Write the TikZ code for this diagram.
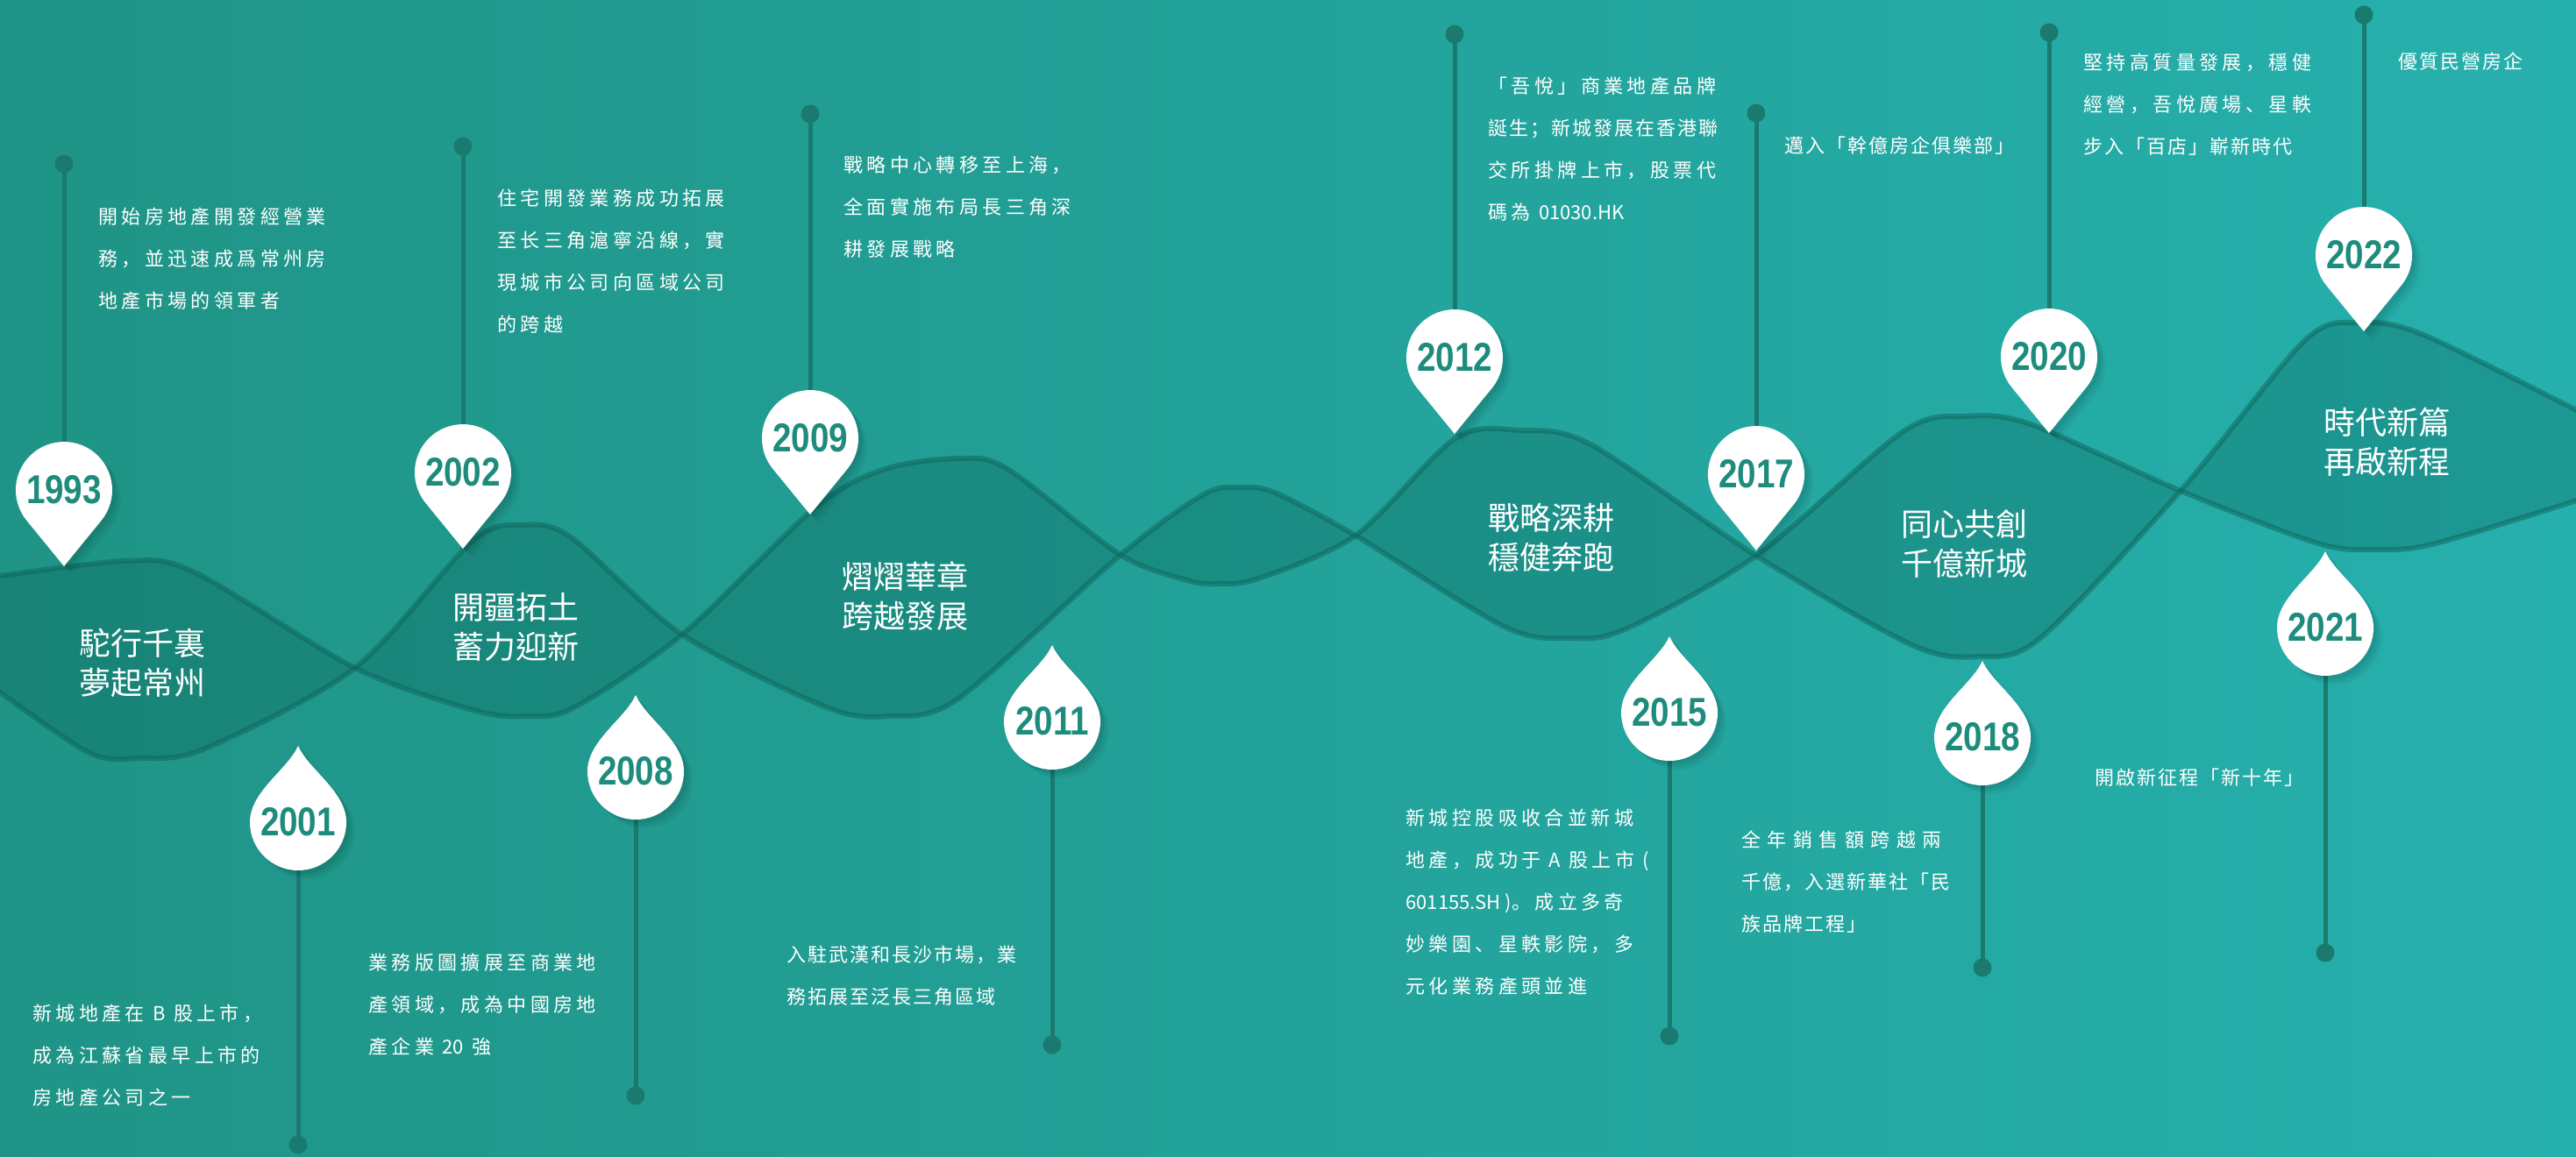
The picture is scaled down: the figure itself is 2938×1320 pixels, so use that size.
\documentclass[tikz,border=0pt]{standalone}
\usepackage{fontspec}
\newfontfamily\descfont[LetterSpace=20]{Noto Sans CJK SC}
\newfontfamily\descmid[LetterSpace=9]{Noto Sans CJK SC}
\newfontfamily\descwide[LetterSpace=34]{Noto Sans CJK SC}
\newfontfamily\descplain{Noto Sans CJK SC}
\newfontfamily\titlefont{Noto Sans CJK TC}
\newfontfamily\yearfont[FakeStretch=0.84]{Liberation Sans}
\definecolor{bgleft}{RGB}{31,148,134}
\definecolor{bgright}{RGB}{38,176,173}
\definecolor{lensfill}{RGB}{8,90,80}
\definecolor{wavestroke}{RGB}{14,100,90}
\definecolor{stemcol}{RGB}{27,122,112}
\definecolor{yearcol}{RGB}{30,140,124}
\newcommand\lat[1]{{\descplain #1}}
\begin{document}
\begin{tikzpicture}[x=0.5pt,y=-0.5pt,
  desc/.style={anchor=north west,inner sep=0pt,text=white,align=left,
    font=\descfont\fontsize{11pt}{24pt}\selectfont},
  lenstitle/.style={anchor=center,inner sep=0pt,text=white,align=center,
    font=\titlefont\fontsize{18pt}{22.5pt}\selectfont},
  yearlbl/.style={anchor=center,inner sep=0pt,text=yearcol,
    font=\yearfont\bfseries\fontsize{23pt}{23pt}\selectfont},
  stemline/.style={draw=stemcol,line width=2.5pt},
  wave/.style={draw=wavestroke,line width=3pt,opacity=0.5},
  upmark/.pic={
    \foreach \s/\o in {10/0.04,7/0.05,4/0.06}{
      \fill[black,opacity=\o,shift={(\s,\s)}] (0,87) -- (42.6,34.8)
        arc[start angle=39.2,end angle=-219.2,radius=55] -- cycle;
    }
    \fill[white] (0,87) -- (42.6,34.8)
      arc[start angle=39.2,end angle=-219.2,radius=55] -- cycle;
  },
  lowdrop/.pic={
    \foreach \s/\o in {10/0.04,7/0.05,4/0.06}{
      \fill[black,opacity=\o,shift={(\s,\s)}] (0,-87)
        .. controls (12,-60) and (55,-35) .. (55,0)
        arc[start angle=0,end angle=180,radius=55]
        .. controls (-55,-35) and (-12,-60) .. (0,-87) -- cycle;
    }
    \fill[white] (0,-87)
      .. controls (12,-60) and (55,-35) .. (55,0)
      arc[start angle=0,end angle=180,radius=55]
      .. controls (-55,-35) and (-12,-60) .. (0,-87) -- cycle;
  }]
\useasboundingbox (0,0) rectangle (2938,1320);
\shade[left color=bgleft,right color=bgright] (0,0) rectangle (2938,1320);

% waves
\begin{scope}
\clip (0,0) rectangle (2938,1320);
\fill[lensfill,opacity=0.28]
  plot[smooth] coordinates {(-20,660) (143,640) (222,653) (405,762) (543,811) (603,817) (655,807) (778,724) (931,578) (1010,535) (1094,523) (1149,535) (1278,633) (1354,662) (1387,666) (1435,660) (1546,611) (1660,500) (1733,491) (1814,507) (2003,634) (2181,736) (2258,749) (2327,728) (2487,560) (2628,389) (2689,368) (2764,382) (2958,478)}
  -- plot[smooth] coordinates {(2958,565) (2778,620) (2711,627) (2644,620) (2487,560) (2316,484) (2243,475) (2171,492) (2003,634) (1853,718) (1789,728) (1716,715) (1546,611) (1454,562) (1414,556) (1373,564) (1278,633) (1093,797) (1013,817) (943,807) (778,724) (651,613) (597,599) (539,617) (405,762) (234,854) (161,865) (100,858) (-20,775)}
  -- cycle;
\draw[wave] plot[smooth] coordinates {(-20,660) (143,640) (222,653) (405,762) (543,811) (603,817) (655,807) (778,724) (931,578) (1010,535) (1094,523) (1149,535) (1278,633) (1354,662) (1387,666) (1435,660) (1546,611) (1660,500) (1733,491) (1814,507) (2003,634) (2181,736) (2258,749) (2327,728) (2487,560) (2628,389) (2689,368) (2764,382) (2958,478)};
\draw[wave] plot[smooth] coordinates {(-20,775) (100,858) (161,865) (234,854) (405,762) (539,617) (597,599) (651,613) (778,724) (943,807) (1013,817) (1093,797) (1278,633) (1373,564) (1414,556) (1454,562) (1546,611) (1716,715) (1789,728) (1853,718) (2003,634) (2171,492) (2243,475) (2316,484) (2487,560) (2644,620) (2711,627) (2778,620) (2958,565)};
\end{scope}

% lens titles
\node[lenstitle] (t1) at (162,756) {駝行千裏\\夢起常州};
\node[lenstitle] (t2) at (588,715) {開疆拓土\\蓄力迎新};
\node[lenstitle] (t3) at (1032,680) {熠熠華章\\跨越發展};
\node[lenstitle] (t4) at (1769,613) {戰略深耕\\穩健奔跑};
\node[lenstitle] (t5) at (2240,620) {同心共創\\千億新城};
\node[lenstitle] (t6) at (2722,504) {時代新篇\\再啟新程};

% upper pins
\foreach \n/\x/\cy/\dy in {1993/73/559/187,2002/528/539/167,2009/924/500/130,2012/1659/408/39,2017/2003/541/129,2020/2337/407/37,2022/2696/291/17}{
  \coordinate (dot\n) at (\x,\dy);
  \coordinate (top\n) at (\x,\cy-55);
  \draw[stemline] (dot\n) -- (top\n);
  \fill[stemcol] (dot\n) circle (10.5);
  \pic at (\x,\cy) {upmark};
  \node[yearlbl] (y\n) at (\x,\cy) {\n};
}
% lower pins
\foreach \n/\x/\cy/\dy in {2001/340/938/1306,2008/725/880/1250,2011/1200/823/1192,2015/1904/813/1182,2018/2261/841/1104,2021/2652/716/1087}{
  \coordinate (dot\n) at (\x,\dy);
  \coordinate (bot\n) at (\x,\cy+55);
  \draw[stemline] (bot\n) -- (dot\n);
  \fill[stemcol] (dot\n) circle (10.5);
  \pic at (\x,\cy) {lowdrop};
  \node[yearlbl] (y\n) at (\x,\cy) {\n};
}

% descriptions
\node[desc] (d1993) at (112,236) {開始房地產開發經營業\\務，並迅速成爲常州房\\地產市場的領軍者};
\node[desc] (d2002) at (567,215) {住宅開發業務成功拓展\\至长三角滬寧沿線，實\\現城市公司向區域公司\\的跨越};
\node[desc] (d2009) at (962,178) {戰略中心轉移至上海，\\全面實施布局長三角深\\耕發展戰略};
\node[desc] (d2012) at (1697,87) {「吾悅」商業地產品牌\\{\descmid 誕生；新城發展在香港聯}\\交所掛牌上市，股票代\\碼為 \lat{01030.HK}};
\node[desc] (d2017) at (2035,155) {\descmid 邁入「幹億房企俱樂部」};
\node[desc] (d2020) at (2376,61) {堅持高質量發展，穩健\\經營，吾悅廣場、星軼\\{\descmid 步入「百店」嶄新時代}};
\node[desc] (d2022) at (2735,59) {\descmid 優質民營房企};
\node[desc] (d2001) at (37,1145) {新城地產在 \lat{B} 股上市，\\成為江蘇省最早上市的\\房地產公司之一};
\node[desc] (d2008) at (420,1087) {業務版圖擴展至商業地\\產領域，成為中國房地\\產企業 \lat{20} 強};
\node[desc] (d2011) at (897,1078) {{\descmid 入駐武漢和長沙市場，業}\\{\descmid 務拓展至泛長三角區域}};
\node[desc] (d2015) at (1603,923) {新城控股吸收合並新城\\地產，成功于 \lat{A} 股上市 \lat{(}\\\lat{601155.SH )}。成立多奇\\妙樂園、星軼影院，多\\元化業務產頭並進};
\node[desc] (d2018) at (1986,947) {{\descwide 全年銷售額跨越兩}\\{\descmid 千億，入選新華社「民}\\{\descmid 族品牌工程」}};
\node[desc] (d2021) at (2389,876) {\descmid 開啟新征程「新十年」};
\end{tikzpicture}
\end{document}
